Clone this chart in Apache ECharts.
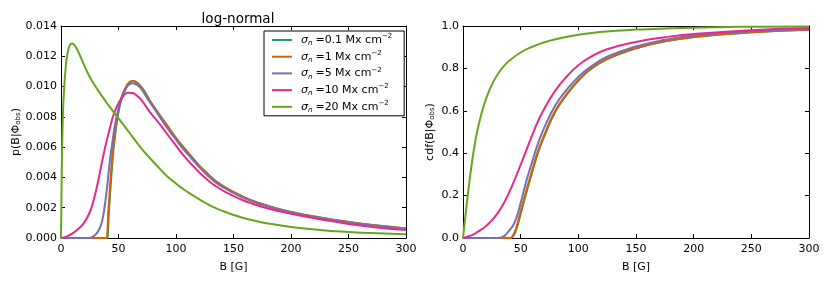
<!DOCTYPE html>
<html><head><meta charset="utf-8">
<script src="https://cdn.jsdelivr.net/npm/echarts@6/dist/echarts.min.js"></script>
<style>html,body{margin:0;padding:0;background:#fff}#c{width:830px;height:283px}</style>
</head><body><div id="c"></div>
<script>
// ---- data ----
var seriesNames = ['0.1', '1', '5', '10', '20'];
var colors = ['#1b9e77', '#d95f02', '#7570b3', '#e7298a', '#66a61e'];
var xTicks = [0, 50, 100, 150, 200, 250, 300];

// pdf panel
var pdfB_01 = [0, 40.1, 40.7, 41.5, 42.5, 43.5, 44.5, 45.5, 46.5, 48.5, 50.5, 53.5, 56.5, 59.5, 62.5, 65.5, 68.5, 72.5, 77, 85, 92, 100, 106, 113, 121, 128, 135, 145, 155, 165, 180, 200, 225, 250, 275, 300];
var pdfV_01 = [0, 0, 0.0002, 0.0015, 0.0027, 0.0038, 0.0048, 0.0057, 0.0064, 0.0076, 0.0085, 0.0094, 0.0099, 0.01025, 0.01036, 0.0103, 0.0101, 0.0097, 0.0091, 0.0082, 0.00745, 0.0066, 0.00603, 0.0054, 0.00471, 0.0042, 0.00372, 0.00325, 0.00284, 0.0025, 0.00212, 0.00172, 0.00135, 0.00106, 0.00082, 0.00063];

var pdfB_1 = [0, 39.5, 40.2, 41, 42, 43, 44, 45, 46, 48, 50, 53, 56, 59, 62, 65, 68, 72, 77, 85, 92, 100, 106, 113, 121, 128, 135, 145, 155, 165, 180, 200, 225, 250, 275, 300];
var pdfV_1 = [0, 0, 0.0002, 0.0015, 0.0027, 0.0038, 0.0048, 0.0057, 0.0064, 0.0076, 0.0085, 0.0094, 0.0099, 0.01025, 0.01036, 0.0103, 0.0101, 0.0097, 0.0091, 0.0082, 0.00745, 0.0066, 0.00603, 0.0054, 0.00471, 0.0042, 0.00372, 0.00325, 0.00284, 0.0025, 0.00212, 0.00172, 0.00135, 0.00106, 0.00082, 0.00063];

var pdfB_5 = [0, 25, 28, 31, 34, 36, 38, 40, 42.5, 45, 47, 50, 53, 56, 59, 62, 65, 68, 72, 77, 85, 92, 100, 106, 113, 121, 128, 135, 145, 155, 165, 180, 200, 225, 250, 275, 300];
var pdfV_5 = [0, 0, 0.0001, 0.0003, 0.0007, 0.0012, 0.0021, 0.0033, 0.0051, 0.0065, 0.0075, 0.0085, 0.0093, 0.0098, 0.01012, 0.01022, 0.01016, 0.0100, 0.0096, 0.0090, 0.0081, 0.0073, 0.0065, 0.0059, 0.0053, 0.00462, 0.0041, 0.00364, 0.00318, 0.00278, 0.00245, 0.00207, 0.00168, 0.00132, 0.00103, 0.0008, 0.00061];

var pdfB_10 = [0, 5, 10, 15, 20, 25, 28, 31, 34, 37, 40, 43, 46, 50, 54, 58, 62, 66, 70, 77, 85, 92, 100, 106, 113, 121, 128, 135, 145, 155, 165, 180, 200, 225, 250, 275, 300];
var pdfV_10 = [0, 0.0001, 0.0003, 0.0006, 0.0010, 0.0017, 0.0024, 0.0033, 0.0044, 0.0055, 0.0065, 0.0074, 0.0082, 0.0089, 0.00935, 0.0096, 0.00958, 0.0094, 0.0091, 0.00835, 0.0076, 0.0069, 0.0061, 0.0055, 0.0049, 0.00428, 0.0038, 0.0034, 0.00296, 0.0026, 0.0023, 0.00195, 0.0016, 0.00124, 0.00093, 0.0007, 0.00052];

var pdfB_20 = [0, 0.5, 1, 1.5, 2, 3, 4, 5, 6, 7.5, 9.3, 11, 13, 15, 18, 22, 26, 30, 34, 40, 45, 50, 56, 63, 70, 77, 85, 92, 100, 106, 113, 121, 128, 135, 145, 155, 165, 180, 200, 225, 250, 275, 300];
var pdfV_20 = [0, 0.0035, 0.006, 0.0077, 0.0088, 0.0102, 0.0112, 0.0119, 0.0123, 0.0127, 0.01285, 0.0128, 0.0126, 0.0123, 0.0118, 0.0111, 0.0105, 0.0100, 0.00955, 0.0089, 0.0084, 0.0079, 0.0073, 0.0066, 0.0059, 0.0053, 0.00465, 0.0041, 0.0036, 0.00325, 0.0029, 0.00252, 0.00222, 0.00196, 0.00166, 0.0014, 0.0012, 0.00096, 0.00073, 0.00053, 0.0004, 0.00031, 0.00025];

// cdf panel
var cdfB_01 = [0, 41.5, 43.5, 46.5, 50.5, 55.5, 60.5, 65.5, 70.5, 80.5, 90.5, 100.5, 110.5, 125.5, 150, 175, 200, 250, 300];
var cdfV_01 = [0, 0, 0.008, 0.045, 0.125, 0.225, 0.32, 0.41, 0.48, 0.60, 0.68, 0.745, 0.795, 0.845, 0.895, 0.928, 0.948, 0.97, 0.982];

var cdfB_1 = [0, 41, 43, 46, 50, 55, 60, 65, 70, 80, 90, 100, 110, 125, 150, 175, 200, 250, 300];
var cdfV_1 = [0, 0, 0.008, 0.045, 0.125, 0.225, 0.32, 0.41, 0.48, 0.60, 0.68, 0.745, 0.795, 0.845, 0.895, 0.928, 0.948, 0.97, 0.982];

var cdfB_5 = [0, 30, 33, 36, 40, 43, 46, 50, 55, 60, 65, 70, 80, 90, 100, 110, 125, 150, 175, 200, 250, 300];
var cdfV_5 = [0, 0, 0.002, 0.01, 0.035, 0.055, 0.09, 0.165, 0.27, 0.36, 0.445, 0.515, 0.625, 0.70, 0.76, 0.805, 0.855, 0.903, 0.935, 0.955, 0.975, 0.985];

var cdfB_10 = [0, 5, 10, 15, 20, 25, 30, 35, 40, 45, 50, 55, 60, 65, 70, 80, 90, 100, 110, 125, 150, 175, 200, 250, 300];
var cdfV_10 = [0, 0.008, 0.02, 0.037, 0.057, 0.083, 0.117, 0.16, 0.215, 0.278, 0.345, 0.415, 0.485, 0.55, 0.605, 0.695, 0.762, 0.815, 0.852, 0.89, 0.925, 0.947, 0.962, 0.98, 0.99];

var cdfB_20 = [0, 1, 2, 3, 4, 6, 8, 10, 12, 15, 18, 22, 26, 30, 35, 40, 50, 60, 70, 80, 95, 110, 130, 155, 180, 220, 260, 300];
var cdfV_20 = [0, 0.05, 0.10, 0.148, 0.195, 0.285, 0.365, 0.435, 0.495, 0.565, 0.6235, 0.6855, 0.7335, 0.7715, 0.808, 0.836, 0.875, 0.902, 0.922, 0.937, 0.954, 0.966, 0.976, 0.984, 0.989, 0.994, 0.997, 0.998];

// ---- build ----
function pairs(xs, ys) { return xs.map(function (x, i) { return [x, ys[i]]; }); }
var pdfSets = [[pdfB_01, pdfV_01], [pdfB_1, pdfV_1], [pdfB_5, pdfV_5], [pdfB_10, pdfV_10], [pdfB_20, pdfV_20]];
var cdfSets = [[cdfB_01, cdfV_01], [cdfB_1, cdfV_1], [cdfB_5, cdfV_5], [cdfB_10, cdfV_10], [cdfB_20, cdfV_20]];

var FONT = 'DejaVu Sans';
var legendLabel = function (s) { return '{i|σ}{sub|n}{t|=' + s + ' Mx cm}{sup|−2}'; };

function mkX(gi, pos, labels) {
  return {
    type: 'value', gridIndex: gi, min: 0, max: 300, interval: 50, position: pos,
    name: labels ? 'B [G]' : '', nameLocation: 'middle', nameGap: 24,
    nameTextStyle: { fontFamily: FONT, fontSize: 11, color: '#000' },
    axisLine: { show: true, onZero: false, lineStyle: { color: '#000', width: 1 } },
    axisTick: { show: true, inside: true, length: 4, lineStyle: { color: '#000' } },
    axisLabel: { show: labels, fontFamily: FONT, fontSize: 11, color: '#000', margin: 6,
      formatter: function (v) { return xTicks.indexOf(v) >= 0 ? String(v) : ''; } },
    splitLine: { show: false }
  };
}
function mkY(gi, pos, labels, max, interval, dec, name, gap) {
  return {
    type: 'value', gridIndex: gi, min: 0, max: max, interval: interval, position: pos,
    name: labels ? name : '', nameLocation: 'middle', nameGap: gap,
    nameTextStyle: {
      fontFamily: FONT, fontSize: 11, color: '#000',
      rich: {
        t: { fontFamily: FONT, fontSize: 11, color: '#000' },
        sub: { fontFamily: FONT, fontSize: 7, color: '#000', verticalAlign: 'bottom', lineHeight: 6 }
      }
    },
    axisLine: { show: true, onZero: false, lineStyle: { color: '#000', width: 1 } },
    axisTick: { show: true, inside: true, length: 4, lineStyle: { color: '#000' } },
    axisLabel: { show: labels, fontFamily: FONT, fontSize: 11, color: '#000', margin: 4,
      formatter: function (v) { return v.toFixed(dec); } },
    splitLine: { show: false }
  };
}

var series = [];
pdfSets.forEach(function (d, i) {
  series.push({ name: seriesNames[i], type: 'line', xAxisIndex: 0, yAxisIndex: 0, data: pairs(d[0], d[1]),
    showSymbol: false, symbol: 'none', smooth: 0.5,
    lineStyle: { color: colors[i], width: 2 }, itemStyle: { color: colors[i] }, z: 2 + i });
});
cdfSets.forEach(function (d, i) {
  series.push({ name: seriesNames[i], type: 'line', xAxisIndex: 2, yAxisIndex: 2, data: pairs(d[0], d[1]),
    showSymbol: false, symbol: 'none', smooth: 0.5,
    lineStyle: { color: colors[i], width: 2 }, itemStyle: { color: colors[i] }, z: 2 + i });
});

var chart = echarts.init(document.getElementById('c'), null, { renderer: 'canvas' });
chart.setOption({
  animation: false,
  backgroundColor: '#fff',
  title: { text: 'log-normal', left: 233, top: 7, textAlign: 'center',
    textStyle: { fontFamily: FONT, fontSize: 13.5, fontWeight: 'normal', color: '#000' } },
  grid: [
    { left: 61, top: 26, width: 345, height: 212 },
    { left: 463, top: 26, width: 346, height: 212 }
  ],
  xAxis: [mkX(0, 'bottom', true), mkX(0, 'top', false), mkX(1, 'bottom', true), mkX(1, 'top', false)],
  yAxis: [
    mkY(0, 'left', true, 0.014, 0.002, 3, '{t|p(B|Φ}{sub|obs}{t|)}', 39),
    mkY(0, 'right', false, 0.014, 0.002, 3, '', 0),
    mkY(1, 'left', true, 1.0, 0.2, 1, '{t|cdf(B|Φ}{sub|obs}{t|)}', 27),
    mkY(1, 'right', false, 1.0, 0.2, 1, '', 0)
  ],
  legend: {
    data: seriesNames, orient: 'vertical', left: 264, top: 31,
    padding: [2, 12, 2, 8], itemGap: 2.7, itemWidth: 20, itemHeight: 2, icon: 'rect',
    borderColor: '#000', borderWidth: 1, borderRadius: 0, backgroundColor: '#fff',
    formatter: legendLabel,
    textStyle: {
      fontFamily: FONT, fontSize: 11, color: '#000', lineHeight: 14, padding: [0, 0, 0, 4],
      rich: {
        i: { fontFamily: FONT, fontSize: 11, fontStyle: 'italic', color: '#000' },
        sub: { fontFamily: FONT, fontSize: 7, fontStyle: 'italic', color: '#000', verticalAlign: 'bottom', lineHeight: 6, padding: [0, 3, 0, 0] },
        t: { fontFamily: FONT, fontSize: 11, color: '#000' },
        sup: { fontFamily: FONT, fontSize: 7, color: '#000', verticalAlign: 'top', lineHeight: 6 }
      }
    }
  },
  series: series
});
</script></body></html>
